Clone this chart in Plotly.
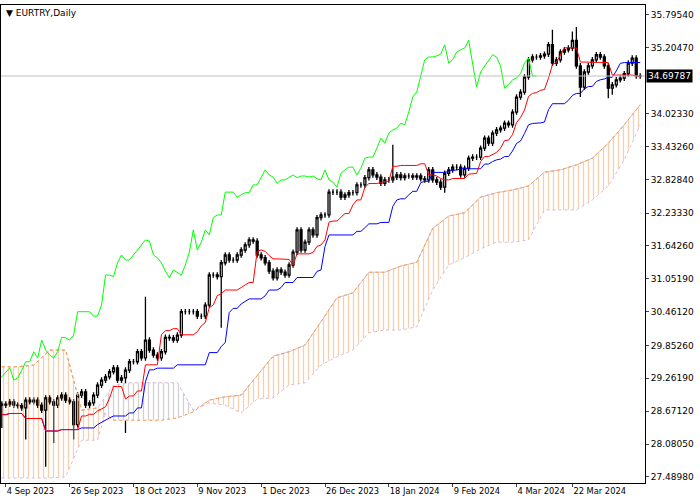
import plotly.graph_objects as go
import pandas as pd
import numpy as np

symbol_title = "EURTRY,Daily"
last_price = 34.69787

# daily closes, bar index -2 (1 Sep 2023) .. 158
closes = [28.78, 28.80, 28.84, 28.78, 28.77, 28.73, 28.87, 28.84, 28.87, 28.78, 28.69, 28.91, 28.84, 28.78,
          28.91, 28.96, 28.87, 28.84, 28.43, 28.96, 29.02, 28.78, 28.82, 28.96, 29.14, 29.23, 29.29, 29.38,
          29.45, 29.23, 29.27, 29.41, 29.56, 29.56, 29.74, 29.63, 29.95, 29.77, 29.68, 29.63, 29.74, 30.00,
          29.99, 29.95, 30.04, 30.46, 30.46, 30.46, 30.46, 30.38, 30.38, 30.58, 31.12, 31.12, 31.09, 31.34,
          31.48, 31.39, 31.39, 31.48, 31.57, 31.66, 31.75, 31.73, 31.48, 31.43, 31.34, 31.19, 31.07, 31.21,
          31.17, 31.12, 31.30, 31.53, 31.93, 31.57, 31.71, 31.93, 31.84, 32.15, 32.20, 32.20, 32.61, 32.61,
          32.61, 32.52, 32.56, 32.60, 32.60, 32.74, 32.74, 32.87, 33.01, 32.92, 32.88, 32.77, 32.83, 32.83,
          32.88, 32.92, 32.87, 32.90, 32.90, 32.88, 32.90, 32.85, 32.83, 33.01, 32.83, 32.79, 32.70, 32.95,
          33.01, 33.06, 33.06, 32.92, 33.04, 33.22, 33.24, 33.24, 33.40, 33.58, 33.49, 33.67, 33.73, 33.76,
          33.85, 33.82, 34.05, 34.32, 34.41, 34.68, 34.99, 35.04, 35.04, 35.06, 35.09, 35.26, 34.93, 34.99,
          35.13, 35.17, 35.20, 35.34, 34.88, 34.50, 34.77, 34.88, 34.99, 35.08, 35.04, 34.88, 34.48, 34.54,
          34.63, 34.66, 34.74, 34.93, 35.02, 34.70, 34.69787]
first_open = 28.80
# notable wick extremes by bar index
long_lows = {-2: 28.37, 4: 28.16, 9: 27.67, 11: 28.10, 16: 28.16, 29: 28.28, 53: 30.17,
             109: 32.60, 143: 34.32, 150: 34.30, 151: 34.36}
long_highs = {34: 30.73, 96: 33.46, 136: 35.53, 141: 35.50, 142: 35.58}
wick = 0.05

# Senkou spans, sampled every 4 bars from bar -2
senkou_a = [29.47, 29.47, 29.50, 29.77, 29.77, 28.69, 28.73, 28.51, 28.51, 28.51, 28.51, 28.55, 28.66, 28.87,
            28.93, 28.96, 29.32, 29.66, 29.74, 29.86, 30.28, 30.71, 30.80, 31.17, 31.17, 31.28, 31.35, 31.96,
            32.18, 32.24, 32.52, 32.60, 32.65, 32.72, 32.97, 33.01, 33.10, 33.22, 33.49, 33.82, 34.18]
senkou_b = [27.47, 27.47, 27.47, 27.47, 27.49, 28.15, 28.15, 29.14, 29.18, 29.18, 29.18, 29.18, 28.69, 28.82,
            28.78, 28.64, 28.89, 28.91, 29.14, 29.18, 29.50, 29.65, 29.77, 30.08, 30.13, 30.13, 30.19, 30.85,
            31.30, 31.43, 31.59, 31.71, 31.71, 31.75, 32.29, 32.29, 32.29, 32.47, 32.72, 33.19, 33.82]

ytick_vals = [35.79540, 35.20470, 34.02330, 33.43260, 32.82840, 32.23330, 31.64260, 31.05190,
              30.46120, 29.85260, 29.26190, 28.67120, 28.08050, 27.48980]
x_label_dates = ["2023-09-04", "2023-09-26", "2023-10-18", "2023-11-09", "2023-12-01",
                 "2023-12-26", "2024-01-18", "2024-02-09", "2024-03-04", "2024-03-22"]

# ---- derived
n = len(closes)
idx = np.arange(-2, -2 + n)
dates = [d for d in pd.bdate_range("2023-09-01", periods=n + 5)
         if not (d.month == 12 and d.day == 25) and not (d.month == 1 and d.day == 1)][:n]
opens = [first_open] + closes[:-1]
highs, lows = [], []
for k, i in enumerate(idx):
    hi = max(opens[k], closes[k]) + wick
    lo = min(opens[k], closes[k]) - wick
    highs.append(long_highs.get(int(i), hi))
    lows.append(long_lows.get(int(i), lo))
s_hi = pd.Series(highs); s_lo = pd.Series(lows)
tenkan = (s_hi.rolling(9, min_periods=1).max() + s_lo.rolling(9, min_periods=1).min()) / 2
kijun = (s_hi.rolling(26, min_periods=1).max() + s_lo.rolling(26, min_periods=1).min()) / 2
sx = np.arange(len(senkou_a)) * 4 - 2
A = np.array(senkou_a); B = np.array(senkou_b)

fig = go.Figure()
fig.add_trace(go.Scatter(x=sx, y=B, mode="lines", line=dict(color="thistle", width=1, dash="dot"),
                         hoverinfo="skip", showlegend=False))
fig.add_trace(go.Scatter(x=sx, y=A, mode="lines", line=dict(color="sandybrown", width=1, dash="dot"),
                         fill="tonexty", fillcolor="rgba(0,0,0,0)",
                         fillpattern=dict(shape="|", fgcolor="#f0a060", size=5, solidity=0.25),
                         hoverinfo="skip", showlegend=False))
fig.add_trace(go.Scatter(x=sx, y=A, mode="lines", line=dict(width=0), hoverinfo="skip", showlegend=False))
fig.add_trace(go.Scatter(x=sx, y=np.maximum(A, B), mode="lines", line=dict(color="thistle", width=1, dash="dot"),
                         fill="tonexty", fillcolor="white",
                         fillpattern=dict(shape="|", fgcolor="#a8a0a8", bgcolor="white", size=5, solidity=0.25),
                         hoverinfo="skip", showlegend=False))
fig.add_trace(go.Scatter(x=sx, y=A, mode="lines", line=dict(color="sandybrown", width=1, dash="dot"),
                         hoverinfo="skip", showlegend=False))

fig.add_hline(y=last_price, line=dict(color="#c0c0c0", width=1))
fig.add_trace(go.Scatter(x=idx - 26, y=closes, mode="lines", line=dict(color="lime", width=1), showlegend=False))
fig.add_trace(go.Scatter(x=idx, y=kijun, mode="lines", line=dict(color="blue", width=1), showlegend=False))
fig.add_trace(go.Scatter(x=idx, y=tenkan, mode="lines", line=dict(color="red", width=1), showlegend=False))
fig.add_trace(go.Candlestick(x=idx, open=opens, high=highs, low=lows, close=closes, whiskerwidth=0,
                             increasing=dict(line=dict(color="black", width=1.3), fillcolor="white"),
                             decreasing=dict(line=dict(color="black", width=1.3), fillcolor="black"),
                             showlegend=False))

date_pos = {d.strftime("%Y-%m-%d"): int(i) for d, i in zip(dates, idx)}
xt = [date_pos[s] for s in x_label_dates]
xlab = [f"{pd.Timestamp(s).day} {pd.Timestamp(s).strftime('%b %Y')}" for s in x_label_dates]

fig.update_layout(
    width=700, height=500, margin=dict(l=1, r=55, t=5, b=17, autoexpand=False),
    paper_bgcolor="white", plot_bgcolor="white",
    font=dict(family="DejaVu Sans", size=9, color="black"),
    xaxis=dict(range=[-2.2, 159.2], tickvals=xt, ticktext=xlab, ticks="outside", ticklen=3, tickangle=0,
               ticklabelposition="outside right", showgrid=False, zeroline=False, automargin=False,
               showline=True, linecolor="black", mirror=True, rangeslider=dict(visible=False),
               tickfont=dict(size=8.3)),
    yaxis=dict(range=[27.38, 35.975], side="right", tickvals=ytick_vals, automargin=False,
               ticktext=[f"{v:.5f}" for v in ytick_vals], ticks="outside", ticklen=3,
               showgrid=False, zeroline=False, showline=True, linecolor="black", mirror=True,
               tickfont=dict(size=9)),
    annotations=[
        dict(x=0.005, y=0.997, xref="paper", yref="paper", text="▼ " + symbol_title, showarrow=False,
             xanchor="left", yanchor="top", font=dict(size=9)),
        dict(x=1.0, y=last_price, xref="paper", yref="y", text=f"{last_price:.5f}", showarrow=False,
             xanchor="left", bgcolor="black", font=dict(color="white", size=9), xshift=1),
    ],
)
fig.write_html("out.html", config={"displayModeBar": False})
with open("out.html", encoding="utf-8") as f:
    html = f.read()
html = html.replace("<body>", '<body style="margin:0;overflow:hidden">', 1)
with open("out.html", "w", encoding="utf-8") as f:
    f.write(html)
